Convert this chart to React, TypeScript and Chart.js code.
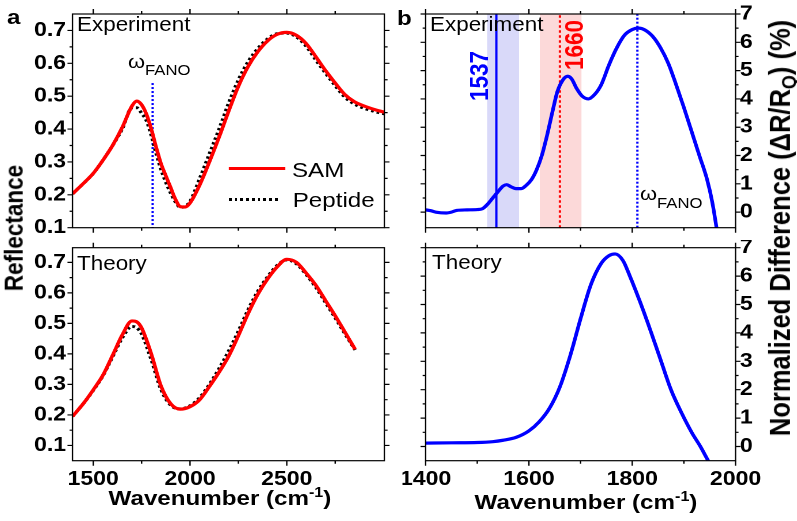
import React, { useEffect, useRef } from 'react';
import { Chart, registerables } from 'chart.js';

Chart.register(...registerables);

// The figure is laid out in an "internal" width and stretched horizontally to 797px
const W_INT = 693;
const SX = 797 / W_INT;
const ix = (d: number) => d / SX;
const FONT = '"Liberation Sans", Arial, Helvetica, sans-serif';
const RED = '#ff0000';
const BLUE = '#0000ff';

// ---------------- Data ----------------
// Panel a, Experiment
const expWave = [1393, 1450, 1500, 1550, 1600, 1650, 1700, 1725, 1750, 1775, 1800, 1825, 1850, 1875, 1900, 1925, 1950, 1975, 2000, 2050, 2100, 2150, 2200, 2250, 2300, 2350, 2400, 2450, 2500, 2550, 2600, 2650, 2700, 2750, 2800, 2850, 2900, 2950, 3005];
const samExp = [0.203, 0.235, 0.265, 0.305, 0.35, 0.405, 0.47, 0.485, 0.474, 0.445, 0.4, 0.345, 0.295, 0.258, 0.222, 0.186, 0.164, 0.163, 0.175, 0.23, 0.3, 0.375, 0.455, 0.53, 0.59, 0.635, 0.668, 0.688, 0.694, 0.685, 0.66, 0.62, 0.578, 0.54, 0.505, 0.483, 0.47, 0.46, 0.451];
const pepExp = [0.203, 0.235, 0.265, 0.305, 0.35, 0.4, 0.465, 0.465, 0.448, 0.425, 0.38, 0.325, 0.277, 0.238, 0.205, 0.178, 0.162, 0.165, 0.18, 0.25, 0.325, 0.4, 0.48, 0.55, 0.605, 0.645, 0.674, 0.69, 0.692, 0.68, 0.652, 0.61, 0.57, 0.532, 0.497, 0.476, 0.463, 0.454, 0.446];
const fanoExpA = 1807;
const fanoExpATop = 0.54;

// Panel a, Theory
const thWave = [1393, 1450, 1500, 1550, 1600, 1650, 1700, 1725, 1750, 1800, 1850, 1900, 1950, 2000, 2050, 2100, 2150, 2200, 2250, 2300, 2350, 2400, 2450, 2500, 2550, 2600, 2650, 2700, 2750, 2800, 2853];
const samTh = [0.195, 0.238, 0.282, 0.33, 0.395, 0.462, 0.508, 0.505, 0.485, 0.4, 0.295, 0.237, 0.219, 0.227, 0.25, 0.293, 0.34, 0.393, 0.46, 0.532, 0.595, 0.645, 0.685, 0.71, 0.7, 0.665, 0.625, 0.575, 0.525, 0.472, 0.415];
const pepTh = [0.195, 0.238, 0.28, 0.328, 0.39, 0.452, 0.49, 0.485, 0.465, 0.38, 0.283, 0.232, 0.22, 0.23, 0.257, 0.3, 0.352, 0.41, 0.475, 0.545, 0.605, 0.652, 0.69, 0.708, 0.695, 0.66, 0.618, 0.568, 0.518, 0.466, 0.413];

// Panel b, Experiment
const diffWaveExp = [1400, 1410, 1420, 1440, 1450, 1460, 1480, 1500, 1510, 1520, 1530, 1540, 1550, 1557, 1565, 1575, 1585, 1595, 1605, 1615, 1625, 1635, 1645, 1655, 1665, 1675, 1683, 1692, 1703, 1715, 1727, 1740, 1755, 1770, 1785, 1800, 1812, 1825, 1840, 1855, 1870, 1885, 1900, 1915, 1930, 1945, 1955, 1965];
const diffExp = [0.08, 0.05, 0.0, -0.03, 0.0, 0.06, 0.08, 0.09, 0.12, 0.28, 0.5, 0.72, 0.92, 0.97, 0.9, 0.83, 0.83, 0.95, 1.15, 1.5, 2.0, 2.7, 3.5, 4.25, 4.65, 4.8, 4.7, 4.38, 4.1, 4.0, 4.15, 4.5, 5.2, 5.8, 6.25, 6.45, 6.5, 6.43, 6.2, 5.8, 5.25, 4.5, 3.7, 2.85, 2.0, 1.15, 0.35, -0.75];
const blueBand = [1519, 1581];
const redBand = [1621, 1702];
const line1537 = 1537;
const line1660 = 1660;
const fanoExpB = 1810;

// Panel b, Theory
const diffWaveTh = [1400, 1450, 1500, 1530, 1550, 1575, 1600, 1620, 1640, 1660, 1680, 1700, 1720, 1740, 1755, 1767, 1782, 1795, 1815, 1835, 1855, 1875, 1895, 1915, 1932, 1947, 1960];
const diffTh = [0.12, 0.13, 0.14, 0.17, 0.22, 0.32, 0.55, 0.87, 1.35, 2.1, 3.2, 4.5, 5.7, 6.45, 6.72, 6.78, 6.55, 6.02, 5.1, 4.1, 3.05, 2.0, 1.2, 0.5, 0.0, -0.5, -0.9];

// Ticks
const reflTicks = [0.1, 0.2, 0.3, 0.4, 0.5, 0.6, 0.7];
const reflMinor = [0.15, 0.25, 0.35, 0.45, 0.55, 0.65];
const waveTicksA = [1500, 2000, 2500];
const waveMinorA = [1750, 2250, 2750];
const diffTicks = [0, 1, 2, 3, 4, 5, 6, 7];
const diffMinor = [0.5, 1.5, 2.5, 3.5, 4.5, 5.5, 6.5];
const waveTicksB = [1400, 1600, 1800, 2000];
const waveMinorB = [1500, 1700, 1900];

const pts = (xs: number[], ys: number[]) => xs.map((x, i) => ({ x, y: ys[i] }));

// ---------------- Plugin: frame + outward major/minor ticks ----------------
const frameTicks = {
  id: 'frameTicks',
  afterDatasetsDraw(chart: any, _args: any, opts: any) {
    const { ctx, chartArea: a } = chart;
    const xs = chart.scales.x;
    const ys = chart.scales.y;
    ctx.save();
    ctx.strokeStyle = '#000';
    ctx.lineWidth = 1.2;
    ctx.lineCap = 'butt';
    ctx.beginPath();
    const xt = (v: number, len: number) => {
      const p = xs.getPixelForValue(v);
      ctx.moveTo(p, a.bottom);
      ctx.lineTo(p, a.bottom + len);
      ctx.moveTo(p, a.top);
      ctx.lineTo(p, a.top - len);
    };
    const yt = (v: number, len: number) => {
      const p = ys.getPixelForValue(v);
      ctx.moveTo(a.left, p);
      ctx.lineTo(a.left - len, p);
      ctx.moveTo(a.right, p);
      ctx.lineTo(a.right + len, p);
    };
    (opts.xMajor || []).forEach((v: number) => xt(v, 5));
    (opts.xMinor || []).forEach((v: number) => xt(v, 3));
    (opts.yMajor || []).forEach((v: number) => yt(v, ix(5)));
    (opts.yMinor || []).forEach((v: number) => yt(v, ix(3)));
    ctx.stroke();
    ctx.strokeRect(a.left, a.top, a.right - a.left, a.bottom - a.top);
    ctx.restore();
  },
};

type AxisCfg = {
  min: number;
  max: number;
  major: number[];
  minor: number[];
  labels: 'none' | 'left' | 'right' | 'bottom';
  size: number; // reserved width (y) or height (x) of the axis box, internal px
  fmt?: (v: number) => string;
};

type PanelProps = {
  left: number;
  top: number;
  width: number;
  height: number;
  padding: { left: number; right: number; top: number; bottom: number };
  datasets: any[];
  x: AxisCfg;
  y: AxisCfg;
};

const tickFont = { family: FONT, size: 20, weight: 'bold' as const };

function Panel(props: PanelProps) {
  const ref = useRef<HTMLCanvasElement | null>(null);
  useEffect(() => {
    if (!ref.current) return;
    const { x, y } = props;
    const chart = new Chart(ref.current, {
      type: 'line',
      data: { datasets: props.datasets },
      options: {
        animation: false,
        responsive: false,
        devicePixelRatio: 2,
        events: [],
        layout: { padding: props.padding },
        plugins: {
          legend: { display: false },
          tooltip: { enabled: false },
          // @ts-ignore
          frameTicks: { xMajor: x.major, xMinor: x.minor, yMajor: y.major, yMinor: y.minor },
        },
        scales: {
          x: {
            type: 'linear',
            min: x.min,
            max: x.max,
            position: 'bottom',
            grid: { display: false, drawTicks: false },
            border: { display: false },
            ticks: {
              display: x.labels !== 'none',
              padding: 6.8,
              color: '#000',
              font: tickFont,
              maxRotation: 0,
              autoSkip: false,
              callback: (v: any) => (x.fmt ? x.fmt(Number(v)) : String(v)),
            },
            afterBuildTicks: (s: any) => {
              s.ticks = x.major.map((v) => ({ value: v }));
            },
            afterFit: (s: any) => {
              s.height = x.size;
              s.paddingLeft = 0;
              s.paddingRight = 0;
            },
          },
          y: {
            type: 'linear',
            min: y.min,
            max: y.max,
            position: y.labels === 'right' ? 'right' : 'left',
            grid: { display: false, drawTicks: false },
            border: { display: false },
            ticks: {
              display: y.labels !== 'none',
              padding: y.labels === 'right' ? ix(4.3) : ix(6.5),
              color: '#000',
              font: tickFont,
              autoSkip: false,
              callback: (v: any) => (y.fmt ? y.fmt(Number(v)) : String(v)),
            },
            afterBuildTicks: (s: any) => {
              s.ticks = y.major.map((v) => ({ value: v }));
            },
            afterFit: (s: any) => {
              s.width = y.size;
              s.paddingTop = 0;
              s.paddingBottom = 0;
            },
          },
        },
      },
      plugins: [frameTicks as any],
    } as any);
    return () => chart.destroy();
  }, []);
  return (
    <canvas
      ref={ref}
      width={props.width}
      height={props.height}
      style={{ position: 'absolute', left: props.left, top: props.top, width: props.width, height: props.height }}
    />
  );
}

const curve = (data: any[], color: string, width: number, dash?: number[]) => ({
  data,
  borderColor: color,
  borderWidth: width,
  borderDash: dash || [],
  pointRadius: 0,
  fill: false,
  cubicInterpolationMode: 'monotone',
  clip: 0,
});

const vline = (xv: number, y0: number, y1: number, color: string, width: number, dash?: number[]) => ({
  data: [
    { x: xv, y: y0 },
    { x: xv, y: y1 },
  ],
  borderColor: color,
  borderWidth: width,
  borderDash: dash || [],
  pointRadius: 0,
  fill: false,
  clip: 0,
});

const band = (range: number[], top: number, color: string) => ({
  data: [
    { x: range[0], y: top },
    { x: range[1], y: top },
  ],
  borderColor: 'transparent',
  borderWidth: 0,
  backgroundColor: color,
  pointRadius: 0,
  fill: 'start',
  order: 10,
  clip: 0,
});

// Text helpers (positions given in displayed px; x converted to internal)
function T(p: { x: number; y: number; size: number; bold?: boolean; color?: string; center?: boolean; children: any }) {
  return (
    <div
      style={{
        position: 'absolute',
        left: ix(p.x),
        top: p.y - 0.8465 * p.size,
        fontFamily: FONT,
        fontSize: p.size,
        fontWeight: p.bold ? 'bold' : 'normal',
        color: p.color || '#000',
        lineHeight: 1,
        whiteSpace: 'nowrap',
        transform: p.center ? 'translateX(-50%)' : undefined,
      }}
    >
      {p.children}
    </div>
  );
}

function RT(p: { cx: number; cy: number; size: number; bold?: boolean; color?: string; children: any }) {
  return (
    <div
      style={{
        position: 'absolute',
        left: ix(p.cx),
        top: p.cy,
        fontFamily: FONT,
        fontSize: p.size,
        fontWeight: p.bold ? 'bold' : 'normal',
        color: p.color || '#000',
        lineHeight: 1,
        whiteSpace: 'nowrap',
        transform: 'translate(-50%, -50%) rotate(-90deg)',
      }}
    >
      {p.children}
    </div>
  );
}

const Sub = ({ size, dy, children }: { size: number; dy: number; children: any }) => (
  <span style={{ fontSize: size, position: 'relative', top: dy }}>{children}</span>
);

export default function App() {
  const leftColW = ix(403);
  const rightColL = ix(403);
  const rightColW = W_INT - ix(403);
  const yWL = ix(72.5);
  const padL = { left: 0, right: ix(403 - 385) };
  const yWR = ix(797 - 735.7);
  const padR = { left: ix(426 - 403), right: 0 };
  const topBottom = 240 - 227.7;
  const botBottom = 281 - (460.7 - 240);
  const topV = { top: 14, bottom: topBottom };
  const botV = { top: 247.7 - 240, bottom: 0 };

  const tlSets = [
    curve(pts(expWave, samExp), RED, 3.2),
    curve(pts(expWave, pepExp), '#000', 3, [2.4, 2.6]),
    vline(fanoExpA, fanoExpATop, 0.1, BLUE, 2, [2, 2]),
  ];
  const blSets = [curve(pts(thWave, samTh), RED, 3.2), curve(pts(thWave, pepTh), '#000', 3, [2.4, 2.6])];
  const trSets = [
    curve(pts(diffWaveExp, diffExp), BLUE, 3.2),
    vline(line1537, -0.55, 7, BLUE, 1.9),
    vline(line1660, -0.55, 7, RED, 2, [2.5, 2.5]),
    vline(fanoExpB, -0.55, 7, BLUE, 2, [2, 2]),
    band(blueBand, 7, '#d9d9f9'),
    band(redBand, 7, '#fcd9d9'),
  ];
  const brSets = [curve(pts(diffWaveTh, diffTh), BLUE, 3.2)];

  const f1 = (v: number) => v.toFixed(1);

  return (
    <div
      style={{
        position: 'fixed',
        left: 0,
        top: 0,
        width: W_INT,
        height: 521,
        transform: `scaleX(${SX})`,
        transformOrigin: '0 0',
        background: '#fff',
      }}
    >
      <Panel
        left={0}
        top={0}
        width={leftColW}
        height={240}
        padding={{ ...padL, ...topV }}
        datasets={tlSets}
        x={{ min: 1393, max: 3005, major: waveTicksA, minor: waveMinorA, labels: 'none', size: 0 }}
        y={{ min: 0.1, max: 0.75, major: reflTicks, minor: reflMinor, labels: 'left', fmt: f1, size: yWL }}
      />
      <Panel
        left={0}
        top={240}
        width={leftColW}
        height={281}
        padding={{ ...padL, ...botV }}
        datasets={blSets}
        x={{ min: 1393, max: 3005, major: waveTicksA, minor: waveMinorA, labels: 'bottom', size: botBottom }}
        y={{ min: 0.05, max: 0.748, major: reflTicks, minor: reflMinor, labels: 'left', fmt: f1, size: yWL }}
      />
      <Panel
        left={rightColL}
        top={0}
        width={rightColW}
        height={240}
        padding={{ ...padR, ...topV }}
        datasets={trSets}
        x={{ min: 1400, max: 2000, major: waveTicksB, minor: waveMinorB, labels: 'none', size: 0 }}
        y={{ min: -0.55, max: 7, major: diffTicks, minor: diffMinor, labels: 'right', size: yWR }}
      />
      <Panel
        left={rightColL}
        top={240}
        width={rightColW}
        height={281}
        padding={{ ...padR, ...botV }}
        datasets={brSets}
        x={{ min: 1400, max: 2000, major: waveTicksB, minor: waveMinorB, labels: 'bottom', size: botBottom }}
        y={{ min: -0.5, max: 7, major: diffTicks, minor: diffMinor, labels: 'right', size: yWR }}
      />

      {/* panel letters */}
      <T x={7} y={24} size={21} bold>a</T>
      <T x={397} y={25} size={21} bold>b</T>

      {/* inner labels */}
      <T x={77} y={31.7} size={19.5}>Experiment</T>
      <T x={430} y={31.7} size={19.5}>Experiment</T>
      <T x={77} y={270.5} size={19.5}>Theory</T>
      <T x={432} y={269.8} size={19.5}>Theory</T>

      <T x={128} y={68} size={19}>
        ω<Sub size={14.5} dy={7}>FANO</Sub>
      </T>
      <T x={640} y={200} size={19}>
        ω<Sub size={14.5} dy={8}>FANO</Sub>
      </T>

      {/* legend */}
      <div style={{ position: 'absolute', left: ix(228.3), top: 168.3 - 1.6, width: ix(285 - 228.3), height: 3.2, background: RED }} />
      <T x={292} y={176.7} size={21}>SAM</T>
      <div
        style={{
          position: 'absolute',
          left: ix(228.3),
          top: 199.3 - 1.5,
          width: ix(279.5 - 228.3),
          height: 3,
          background: 'repeating-linear-gradient(to right, #000 0px, #000 2.4px, transparent 2.4px, transparent 5px)',
        }}
      />
      <T x={292.7} y={206.7} size={21}>Peptide</T>

      {/* peak markers */}
      <RT cx={480.8} cy={75.8} size={22.5} bold color={BLUE}>1537</RT>
      <RT cx={575} cy={45} size={22.5} bold color={RED}>1660</RT>

      {/* axis titles */}
      <RT cx={15} cy={228} size={22.5} bold>Reflectance</RT>
      <RT cx={781} cy={227.5} size={25.5} bold>
        Normalized Difference (ΔR/R<Sub size={18} dy={5}>Q</Sub>) (%)
      </RT>
      <T x={220} y={505} size={21} bold center>
        Wavenumber (cm<Sub size={14} dy={-8}>-1</Sub>)
      </T>
      <T x={586} y={509} size={21} bold center>
        Wavenumber (cm<Sub size={14} dy={-8}>-1</Sub>)
      </T>
    </div>
  );
}
